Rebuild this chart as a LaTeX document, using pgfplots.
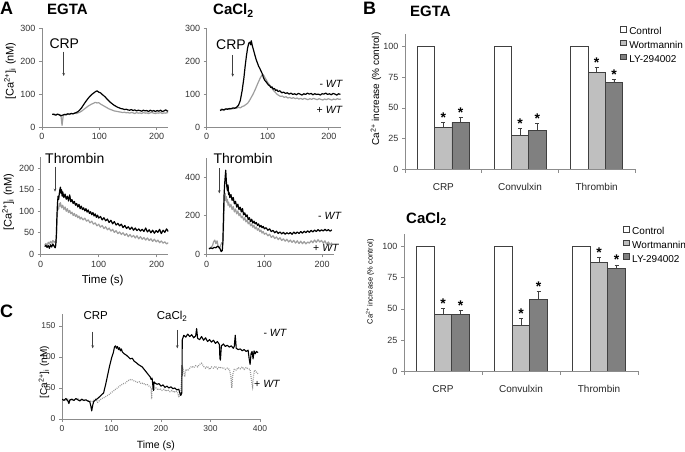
\documentclass[border=0pt]{standalone}
\usepackage{fontspec}
\setmainfont{Liberation Sans}
\usepackage{pgfplots}
\pgfplotsset{compat=1.18}
\usetikzlibrary{arrows.meta}
\newcommand\fs[1]{\fontsize{#1}{#1}\selectfont}
\pgfplotsset{
  myax/.style={scale only axis, anchor=south west, axis x line*=bottom, axis y line*=left,
    axis line style={draw=black!45, line width=0.6pt},
    tick align=outside, major tick length=3pt,
    every tick/.style={draw=black!45, line width=0.6pt},
    tick label style={font=\fs{9}, text=black!80},
    /pgf/number format/assume math mode=true,
    ylabel style={font=\fs{11}, anchor=center},
  },
  blk/.style={black, line width=1.2pt, line join=round, mark=none},
  gry/.style={black!38, line width=1.2pt, line join=round, mark=none},
  sq/.style={legend image code/.code={\draw[##1] (0pt,0.8pt) rectangle (5.4pt,6.2pt);}},
  ebar/.style={error bars/.cd, y dir=plus, y explicit,
    error bar style={black!75, line width=0.6pt},
    error mark options={rotate=90, mark size=2pt, black!75, line width=0.6pt}},
  barax/.style={myax, xmin=-0.5, xmax=2.5, ymin=0, ymax=110, ytick={0,25,50,75,100},
    xtick={0,1,2}, xticklabels={CRP,Convulxin,Thrombin},
    minor xtick={-0.5,0.5,1.5,2.5}, major x tick style={draw=none}, minor tick length=4pt,
    xticklabel style={font=\fs{10}, text=black!85, yshift=-8pt},
    legend cell align=left,
  },
  leg/.style={legend style={at={#1}, anchor=north west, draw=none, fill=none,
    font=\fs{10}, row sep=0pt, inner sep=0pt,
    nodes={inner sep=1pt, text height=8pt, text depth=3.7pt},
    /tikz/every odd column/.append style={column sep=2pt}}},
}
\newcommand\arr[3]{\draw[-{Stealth[length=3pt,width=2.6pt]}, black!75, line width=0.5pt] (#1,#2) -- (#1,#3);}
\newcommand\astk[2]{\node[font=\fs{14}\bfseries, anchor=base, inner sep=0] at (axis cs:#1,#2) {*};}
\begin{document}
\begin{tikzpicture}[x=1pt,y=1pt]
\useasboundingbox (0,0) rectangle (685,452);

% ---------------- A1: EGTA / CRP
\begin{axis}[myax, at={(42pt,325pt)}, width=126pt, height=98.7pt,
  xmin=0, xmax=220, ymin=0, ymax=300, xtick={0,100,200}, ytick={0,100,200,300},
  ylabel={[Ca\textsuperscript{2+}]\textsubscript{i} (nM)},
  ylabel style={at={(axis description cs:-0.254,0.567)}}]
\addplot[gry] coordinates {(18,38) (21,40) (24,37) (27,39) (30,38) (33,36) (35,5) (37,34) (39,38) (42,39) (45,40) (48,38) (51,41) (54,40) (57,42) (60,41) (63,43) (66,45) (69,48) (72,52) (75,56) (78,60) (81,64) (84,67) (87,70) (90,72) (93,75) (96,73) (99,74) (102,70) (105,67) (108,64) (111,61) (114,58) (117,55) (120,53) (123,51) (126,49) (129,48) (132,47) (135,46) (138,45) (141,44) (144,45) (147,43) (150,44) (153,42) (156,44) (159,43) (162,41) (165,44) (168,42) (171,43) (174,41) (177,44) (180,42) (183,43) (186,41) (189,43) (192,44) (195,42) (198,41) (201,43) (204,42) (207,44) (210,41) (213,43) (216,42) (219,44) (222,42)};
\addplot[blk] coordinates {(18,39) (21,38) (24,36) (27,39) (30,37) (33,34) (36,36) (39,38) (42,37) (45,40) (48,39) (51,41) (54,40) (57,42) (60,44) (63,47) (66,52) (69,58) (72,66) (75,74) (78,81) (81,88) (84,94) (87,99) (90,103) (93,107) (96,110) (99,106) (102,104) (105,99) (108,95) (111,90) (114,84) (117,79) (120,74) (123,70) (126,66) (129,63) (132,60) (135,58) (138,56) (141,55) (144,53) (147,54) (150,52) (153,51) (156,53) (159,50) (162,52) (165,49) (168,51) (171,50) (174,48) (177,51) (180,49) (183,50) (186,47) (189,51) (192,48) (195,50) (198,47) (201,50) (204,48) (207,51) (210,47) (213,49) (216,52) (219,48) (222,50)};
\end{axis}

% ---------------- A2: CaCl2 / CRP
\begin{axis}[myax, at={(206.7pt,325pt)}, width=134.3pt, height=98.7pt,
  xmin=0, xmax=220, ymin=0, ymax=300, xtick={0,100,200}, ytick={0,100,200,300}]
\addplot[gry] coordinates {(22,52) (25,55) (28,50) (31,54) (34,56) (37,53) (40,57) (43,55) (46,58) (49,57) (52,60) (55,58) (58,62) (61,64) (64,68) (67,72) (70,80) (73,90) (76,100) (79,112) (82,125) (85,138) (88,150) (90,156) (92,160) (94,155) (96,148) (98,142) (100,135) (103,128) (106,120) (109,112) (112,106) (115,100) (118,96) (121,93) (124,94) (127,90) (130,92) (133,88) (136,90) (139,87) (142,89) (145,86) (148,88) (151,85) (154,87) (157,84) (160,87) (163,85) (166,83) (169,86) (172,84) (175,87) (178,85) (181,83) (184,86) (187,84) (190,82) (193,85) (196,83) (199,86) (202,84) (205,82) (208,85) (211,83) (214,86) (217,84) (220,85)};
\addplot[blk] coordinates {(22,50) (25,53) (28,52) (31,55) (34,54) (37,56) (40,55) (43,58) (46,57) (49,60) (52,66) (55,80) (58,110) (61,150) (63,185) (65,215) (67,240) (69,255) (71,258) (72,250) (73,262) (75,245) (77,232) (79,218) (81,205) (83,195) (85,185) (87,178) (89,170) (91,162) (93,150) (95,142) (97,138) (99,133) (101,128) (103,126) (105,120) (107,122) (109,115) (111,117) (113,111) (115,113) (117,108) (120,110) (123,104) (126,106) (129,102) (132,104) (135,100) (138,103) (141,99) (144,101) (147,98) (150,102) (153,100) (156,97) (159,101) (162,99) (165,103) (168,100) (171,102) (174,98) (177,101) (180,99) (183,100) (186,97) (189,101) (192,100) (195,103) (198,99) (201,101) (204,98) (207,102) (210,100) (213,97) (216,101) (219,99)};
\end{axis}

% ---------------- A3: EGTA / Thrombin
\begin{axis}[myax, at={(40.7pt,197.7pt)}, width=127.6pt, height=96.8pt,
  xmin=0, xmax=220, ymin=0, ymax=225, xtick={0,100,200}, ytick={0,50,100,150,200},
  ylabel={[Ca\textsuperscript{2+}]\textsubscript{i} (nM)},
  ylabel style={at={(axis description cs:-0.256,0.54)}},
  xlabel={Time (s)}, xlabel style={at={(axis description cs:0.486,-0.3)}, anchor=base, font=\fs{11.5}}]
\addplot[gry] coordinates {(7,22) (9,25) (11,20) (13,28) (15,24) (17,30) (19,26) (21,32) (23,28) (25,30) (26,25) (27,35) (28,75) (29,100) (30,110) (31,105) (32,118) (33,112) (34,120) (36,108) (38,114) (40,104) (42,110) (44,100) (46,106) (48,97) (50,102) (52,94) (54,98) (56,90) (58,95) (60,88) (62,92) (64,85) (66,89) (68,82) (70,86) (73,80) (76,84) (79,77) (82,80) (85,73) (88,77) (91,70) (94,73) (97,66) (100,70) (103,63) (106,67) (109,60) (112,64) (115,57) (118,61) (121,54) (124,58) (127,51) (130,55) (133,48) (136,52) (139,46) (142,50) (145,44) (148,48) (151,41) (154,46) (157,40) (160,44) (163,38) (166,43) (169,36) (172,41) (175,35) (178,39) (181,33) (184,38) (187,32) (190,36) (193,30) (196,35) (199,29) (202,33) (205,27) (208,31) (211,26) (214,29) (217,24) (220,27)};
\addplot[blk] coordinates {(7,18) (9,21) (11,16) (13,20) (15,14) (17,22) (19,17) (21,24) (23,19) (25,15) (26,22) (27,45) (28,90) (29,120) (30,135) (31,128) (32,140) (33,150) (34,156) (35,142) (36,150) (37,135) (38,145) (40,132) (42,140) (44,128) (46,135) (48,124) (50,138) (52,122) (54,127) (56,118) (58,123) (60,114) (62,118) (64,110) (66,116) (68,106) (70,112) (72,104) (74,108) (76,101) (78,106) (80,98) (82,103) (84,95) (86,99) (88,92) (90,97) (92,89) (94,94) (96,86) (98,91) (100,84) (103,88) (106,80) (109,85) (112,78) (115,82) (118,74) (121,79) (124,71) (127,76) (130,68) (133,72) (136,66) (139,70) (142,62) (145,67) (148,60) (151,64) (154,58) (157,63) (160,56) (163,61) (166,55) (169,59) (172,54) (175,58) (178,53) (181,61) (184,52) (187,57) (190,50) (193,56) (196,49) (199,55) (202,51) (205,58) (208,48) (211,56) (214,51) (217,59) (220,53)};
\end{axis}

% ---------------- A4: CaCl2 / Thrombin
\begin{axis}[myax, at={(206.7pt,197.7pt)}, width=126.9pt, height=96.3pt,
  xmin=0, xmax=220, ymin=0, ymax=500, xtick={0,100,200}, ytick={0,200,400}]
\addplot[gry] coordinates {(4,30) (7,35) (10,45) (12,65) (14,74) (16,55) (18,70) (20,40) (22,30) (24,45) (26,60) (28,55) (29,120) (30,230) (31,290) (32,316) (33,280) (34,300) (35,270) (36,285) (37,255) (38,270) (40,245) (42,260) (44,232) (46,248) (48,220) (50,235) (52,210) (54,225) (56,200) (58,212) (60,190) (62,198) (64,178) (66,190) (68,168) (70,178) (72,158) (74,168) (76,148) (78,158) (80,140) (82,150) (84,132) (86,142) (88,125) (90,134) (92,118) (94,126) (96,110) (98,118) (100,104) (103,110) (106,96) (109,104) (112,88) (115,96) (118,82) (121,90) (124,76) (127,86) (130,72) (133,80) (136,68) (139,78) (142,64) (145,74) (148,62) (151,72) (154,58) (157,70) (160,56) (163,68) (166,55) (169,66) (172,54) (175,64) (178,58) (181,70) (184,60) (187,74) (190,62) (193,76) (196,64) (199,72) (202,58) (205,70) (208,52) (211,64) (214,48) (217,60)};
\addplot[blk] coordinates {(4,28) (7,33) (10,30) (13,36) (16,34) (19,42) (21,38) (23,30) (25,14) (27,20) (28,60) (29,180) (30,300) (31,360) (32,400) (33,437) (34,380) (35,350) (36,330) (37,360) (38,310) (39,320) (40,295) (42,310) (44,280) (46,295) (48,262) (50,275) (52,245) (54,260) (56,232) (58,245) (60,220) (62,238) (64,205) (66,215) (68,195) (70,205) (72,180) (74,190) (76,170) (78,182) (80,162) (82,172) (84,158) (86,165) (88,150) (90,158) (92,142) (94,150) (96,138) (98,145) (100,132) (103,138) (106,125) (109,132) (112,118) (115,124) (118,112) (121,120) (124,108) (127,116) (130,106) (133,114) (136,104) (139,112) (142,106) (145,113) (148,104) (151,115) (154,107) (157,116) (160,108) (163,118) (166,110) (169,120) (172,112) (175,122) (178,114) (181,124) (184,116) (187,126) (190,118) (193,128) (196,120) (199,127) (202,121) (205,130) (208,122) (211,128) (214,120) (217,127)};
\end{axis}

% ---------------- C
\begin{axis}[myax, at={(62pt,33pt)}, width=198pt, height=105.4pt,
  xmin=0, xmax=400, ymin=0, ymax=170, xtick={0,100,200,300,400}, ytick={0,50,100,150},
  tick label style={font=\fs{8.5}},
  ylabel={[Ca\textsuperscript{2+}]\textsubscript{i} (nM)},
  ylabel style={at={(axis description cs:-0.091,0.446)}, font=\fs{10}},
  xlabel={Time (s)}, xlabel style={at={(axis description cs:0.474,-0.278)}, anchor=base, font=\fs{10.5}}]
\addplot[black!40, line width=1.2pt, dash pattern=on 0.9pt off 1.1pt, mark=none] coordinates {(0,33) (4,31) (8,30) (12,32) (16,29) (20,31) (24,30) (28,32) (32,33) (36,30) (40,31) (44,29) (48,31) (52,30) (56,29) (60,28) (64,30) (68,32) (72,27) (76,30) (80,33) (84,34) (88,36) (92,38) (96,40) (100,43) (104,45) (108,48) (112,50) (116,53) (120,55) (124,57) (128,58) (132,61) (136,63) (140,64) (144,62) (148,61) (152,59) (156,60) (160,57) (164,58) (168,55) (172,56) (176,53) (180,51) (181,32) (182,50) (186,48) (190,50) (194,47) (198,49) (202,46) (206,48) (210,45) (214,47) (218,44) (222,46) (226,43) (230,45) (234,42) (236,35) (238,40) (240,42) (242,70) (244,82) (246,75) (248,68) (250,80) (254,78) (258,82) (262,85) (266,83) (270,86) (274,84) (278,88) (282,90) (286,85) (290,82) (294,85) (298,80) (302,84) (306,82) (310,85) (314,81) (318,84) (322,82) (326,83) (330,80) (334,82) (338,80) (341,70) (343,50) (345,72) (348,80) (352,79) (356,83) (360,81) (364,84) (368,80) (372,83) (376,81) (380,80) (383,60) (385,52) (387,70) (389,79) (392,76) (396,73)};
\addplot[black, line width=1.1pt, line join=round, mark=none] coordinates {(0,32) (4,30) (8,33) (12,29) (14,25) (16,31) (20,32) (24,30) (28,33) (32,31) (36,29) (40,32) (44,30) (48,31) (52,29) (56,28) (58,22) (60,13) (62,22) (64,28) (68,31) (72,33) (76,36) (80,39) (84,42) (88,55) (92,70) (96,85) (100,98) (104,108) (106,116) (108,118) (110,114) (112,117) (114,112) (116,115) (118,110) (120,113) (122,108) (126,105) (130,103) (134,100) (138,97) (142,98) (146,93) (150,91) (154,88) (158,86) (162,84) (166,80) (170,76) (174,72) (178,68) (180,64) (182,66) (184,50) (185,46) (186,60) (188,58) (192,56) (196,57) (200,53) (204,55) (208,51) (212,53) (216,50) (220,52) (224,49) (228,50) (232,47) (236,48) (238,42) (240,38) (242,42) (243,128) (246,135) (250,132) (254,137) (258,133) (262,136) (266,131) (270,134) (272,146) (274,130) (278,128) (282,133) (286,127) (290,131) (294,125) (298,128) (302,124) (306,127) (310,122) (314,125) (318,120) (319,98) (320,95) (322,118) (326,121) (330,117) (334,119) (338,116) (342,118) (346,114) (348,117) (350,135) (352,114) (356,112) (360,113) (364,110) (368,112) (372,109) (376,111) (378,98) (380,88) (382,106) (384,109) (386,97) (388,110) (390,105) (393,109) (396,107)};
\end{axis}

% ---------------- B top: EGTA
\begin{axis}[barax, at={(405pt,283pt)}, width=230pt, height=134.5pt,
  ylabel={Ca\textsuperscript{2+} increase (\% control)},
  ylabel style={at={(axis description cs:-0.126,0.595)}, font=\fs{10}},
  leg={(axis description cs:0.935,1.066)}]
\addplot[ybar, bar width=17.3pt, bar shift=0pt, fill=white, draw=black!75, line width=0.6pt, sq]
  coordinates {(-0.2257,100) (0.7743,100) (1.7743,100)};
\addplot[ybar, bar width=17.3pt, bar shift=0pt, fill=black!25, draw=black!75, line width=0.6pt, sq, ebar]
  coordinates {(0,33.8) +- (0,4.1) (1,27.2) +- (0,6) (2,78.7) +- (0,4.4)};
\addplot[ybar, bar width=17.3pt, bar shift=0pt, fill=black!50, draw=black!75, line width=0.6pt, sq, ebar]
  coordinates {(0.2257,38.2) +- (0,3.8) (1.2257,31.6) +- (0,5.8) (2.2257,71.1) +- (0,2.5)};
\legend{Control,Wortmannin,LY-294002}
\astk{0}{37.9}
\astk{0.2257}{42}
\astk{1}{33.2}
\astk{1.2257}{37.4}
\astk{2}{83.1}
\astk{2.2257}{73.6}
\end{axis}

% ---------------- B bottom: CaCl2
\begin{axis}[barax, at={(404pt,81pt)}, width=234pt, height=136.7pt,
  ylabel={Ca\textsuperscript{2+} increase (\% control)},
  ylabel style={at={(axis description cs:-0.145,0.652)}, font=\fs{7.5}},
  leg={(axis description cs:0.936,1.064)}]
\addplot[ybar, bar width=17.5pt, bar shift=0pt, fill=white, draw=black!75, line width=0.6pt, sq]
  coordinates {(-0.2244,100) (0.7756,100) (1.7756,100)};
\addplot[ybar, bar width=17.5pt, bar shift=0pt, fill=black!25, draw=black!75, line width=0.6pt, sq, ebar]
  coordinates {(0,45.6) +- (0,4.8) (1,37) +- (0,5.4) (2,87.4) +- (0,4.3)};
\addplot[ybar, bar width=17.5pt, bar shift=0pt, fill=black!50, draw=black!75, line width=0.6pt, sq, ebar]
  coordinates {(0.2244,45.6) +- (0,3.4) (1.2244,57.9) +- (0,5.9) (2.2244,82.6) +- (0,2.7)};
\legend{Control,Wortmannin,LY-294002}
\astk{0}{50.4}
\astk{0.2244}{49}
\astk{1}{42.4}
\astk{1.2244}{63.8}
\astk{2}{91.7}
\astk{2.2244}{85.3}
\end{axis}

% ---------------- titles and annotations
\begin{scope}[every node/.style={inner sep=0, anchor=base west}]
\node[font=\fs{18}\bfseries] at (0,437) {A};
\node[font=\fs{15}\bfseries] at (47,437) {EGTA};
\node[font=\fs{15}\bfseries] at (213,437) {CaCl\textsubscript{2}};
\node[font=\fs{18}\bfseries] at (363,437) {B};
\node[font=\fs{15}\bfseries] at (410,435.3) {EGTA};
\node[font=\fs{15}\bfseries] at (406,228.7) {CaCl\textsubscript{2}};
\node[font=\fs{18}\bfseries] at (0,134) {C};
\node[font=\fs{14}] at (49.3,403.7) {CRP};
\node[font=\fs{14}] at (216,402.7) {CRP};
\node[font=\fs{14}] at (45,288.7) {Thrombin};
\node[font=\fs{14}] at (213.3,288.7) {Thrombin};
\node[font=\fs{10.5}] at (319.3,364) {- \textit{WT}};
\node[font=\fs{10.5}] at (316.5,338.7) {+ \textit{WT}};
\node[font=\fs{10.5}] at (318,232) {- \textit{WT}};
\node[font=\fs{10.5}] at (313,200.3) {+ \textit{WT}};
\node[font=\fs{11.5}] at (83.3,132) {CRP};
\node[font=\fs{11.5}] at (156.7,132) {CaCl\textsubscript{2}};
\node[font=\fs{10.5}] at (263.3,115.3) {- \textit{WT}};
\node[font=\fs{10.5}] at (254,64.7) {+ \textit{WT}};
\end{scope}
\arr{63.7}{400.3}{376}
\arr{232.7}{397}{375.3}
\arr{55}{285.3}{260.3}
\arr{219.3}{283.7}{258.7}
\arr{92.7}{120.3}{103.7}
\arr{177.3}{122}{103.7}
\end{tikzpicture}
\end{document}
